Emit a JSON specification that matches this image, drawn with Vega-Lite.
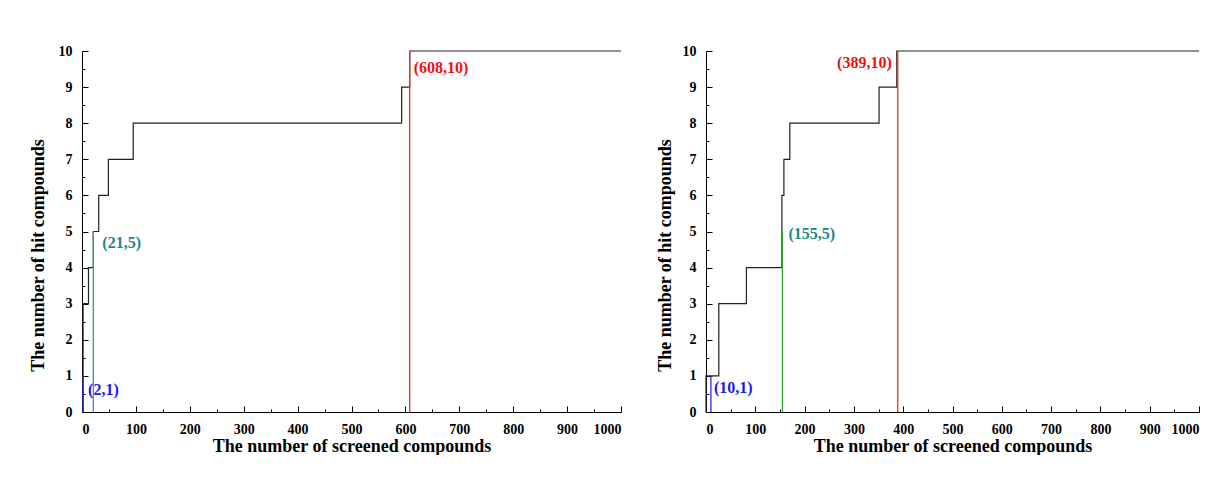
{
  "$schema": "https://vega.github.io/schema/vega-lite/v6.json",
  "background": "white",
  "padding": {"left": 29, "top": 44, "right": 0, "bottom": 0},
  "spacing": 32,
  "datasets": {
    "steps": [
      {"panel": "A", "i": 0, "x": 0, "y": 0},
      {"panel": "A", "i": 1, "x": 2, "y": 3},
      {"panel": "A", "i": 2, "x": 12, "y": 4},
      {"panel": "A", "i": 3, "x": 21, "y": 5},
      {"panel": "A", "i": 4, "x": 31, "y": 6},
      {"panel": "A", "i": 5, "x": 49, "y": 7},
      {"panel": "A", "i": 6, "x": 95, "y": 8},
      {"panel": "A", "i": 7, "x": 593, "y": 9},
      {"panel": "A", "i": 8, "x": 608, "y": 10},
      {"panel": "A", "i": 9, "x": 1000, "y": 10},
      {"panel": "B", "i": 0, "x": 0, "y": 0},
      {"panel": "B", "i": 1, "x": 0, "y": 1},
      {"panel": "B", "i": 2, "x": 26, "y": 3},
      {"panel": "B", "i": 3, "x": 82, "y": 4},
      {"panel": "B", "i": 4, "x": 154, "y": 6},
      {"panel": "B", "i": 5, "x": 158, "y": 7},
      {"panel": "B", "i": 6, "x": 170, "y": 8},
      {"panel": "B", "i": 7, "x": 351, "y": 9},
      {"panel": "B", "i": 8, "x": 387, "y": 10},
      {"panel": "B", "i": 9, "x": 1000, "y": 10}
    ],
    "marks": [
      {"panel": "A", "x": 2, "y": 1, "label": "(2,1)", "line": "blue"},
      {"panel": "A", "x": 21, "y": 5, "label": "(21,5)", "line": "teal"},
      {"panel": "A", "x": 608, "y": 10, "label": "(608,10)", "line": "red"},
      {"panel": "B", "x": 10, "y": 1, "label": "(10,1)", "line": "blue"},
      {"panel": "B", "x": 155, "y": 5, "label": "(155,5)", "line": "green"},
      {"panel": "B", "x": 389, "y": 10, "label": "(389,10)", "line": "red"}
    ]
  },
  "config": {
    "font": "Liberation Serif",
    "view": {"stroke": null},
    "axis": {
      "grid": false,
      "domainColor": "black",
      "domainWidth": 1,
      "tickColor": "black",
      "tickWidth": 1,
      "labelColor": "black",
      "titleColor": "black",
      "labelFont": "Liberation Serif",
      "titleFont": "Liberation Serif",
      "labelFontWeight": "bold",
      "titleFontWeight": "bold",
      "labelFontSize": 14,
      "titleFontSize": 18
    }
  },
  "hconcat": [
    {
      "width": 539,
      "height": 361,
      "resolve": {"axis": {"x": "independent", "y": "independent"}},
      "layer": [
        {
          "data": {"name": "steps"},
          "transform": [{"filter": "datum.panel === 'A'"}],
          "mark": {"type": "point", "opacity": 0},
          "encoding": {
            "x": {"field": "x", "type": "quantitative", "scale": {"domain": [0, 1000], "nice": false, "zero": false},
                  "axis": {"orient": "bottom", "values": [50,150,250,350,450,550,650,750,850,950], "labels": false, "domain": false, "tickSize": -3, "title": null}},
            "y": {"field": "y", "type": "quantitative", "scale": {"domain": [0, 10], "nice": false},
                  "axis": {"orient": "left", "values": [0.5,1.5,2.5,3.5,4.5,5.5,6.5,7.5,8.5,9.5], "labels": false, "domain": false, "tickSize": -3, "title": null}}
          }
        },
        {
          "data": {"name": "steps"},
          "transform": [{"filter": "datum.panel === 'A'"}],
          "mark": {"type": "line", "interpolate": "step-after", "color": "#222222", "strokeWidth": 1.2},
          "encoding": {
            "x": {"field": "x", "type": "quantitative",
                  "axis": {"orient": "bottom", "values": [0,100,200,300,400,500,600,700,800,900,1000], "format": "d", "tickSize": -6, "labelPadding": 16, "title": "The number of screened compounds", "titlePadding": 1}},
            "y": {"field": "y", "type": "quantitative",
                  "axis": {"orient": "left", "values": [0,1,2,3,4,5,6,7,8,9,10], "format": "d", "tickSize": -6, "labelPadding": 16, "title": "The number of hit compounds", "titleX": -44, "titleY": 204, "titleBaseline": "middle", "titleAngle": -90}},
            "order": {"field": "i", "type": "quantitative"}
          }
        },
        {
          "data": {"name": "marks"},
          "transform": [{"filter": "datum.panel === 'A'"}],
          "mark": {"type": "rule", "strokeWidth": 1.3},
          "encoding": {
            "x": {"field": "x", "type": "quantitative", "axis": null},
            "y": {"field": "y", "type": "quantitative", "axis": null},
            "y2": {"datum": 0},
            "color": {"field": "line", "type": "nominal", "legend": null,
                      "scale": {"domain": ["blue", "teal", "green", "red"], "range": ["#2a2aff", "#2a9d9d", "#2ea82e", "#f03030"]}}
          }
        },
        {
          "data": {"name": "marks"},
          "transform": [{"filter": "datum.label === '(2,1)'"}],
          "mark": {"type": "text", "align": "left", "baseline": "middle", "dx": 5, "dy": 14, "fontSize": 16, "fontWeight": "bold", "font": "Liberation Serif", "color": "#1a1aee"},
          "encoding": {"x": {"field": "x", "type": "quantitative", "axis": null}, "y": {"field": "y", "type": "quantitative", "axis": null}, "text": {"field": "label", "type": "nominal"}}
        },
        {
          "data": {"name": "marks"},
          "transform": [{"filter": "datum.label === '(21,5)'"}],
          "mark": {"type": "text", "align": "left", "baseline": "middle", "dx": 9, "dy": 11, "fontSize": 16, "fontWeight": "bold", "font": "Liberation Serif", "color": "#178a8a"},
          "encoding": {"x": {"field": "x", "type": "quantitative", "axis": null}, "y": {"field": "y", "type": "quantitative", "axis": null}, "text": {"field": "label", "type": "nominal"}}
        },
        {
          "data": {"name": "marks"},
          "transform": [{"filter": "datum.label === '(608,10)'"}],
          "mark": {"type": "text", "align": "left", "baseline": "middle", "dx": 4, "dy": 17, "fontSize": 16, "fontWeight": "bold", "font": "Liberation Serif", "color": "#ee1111"},
          "encoding": {"x": {"field": "x", "type": "quantitative", "axis": null}, "y": {"field": "y", "type": "quantitative", "axis": null}, "text": {"field": "label", "type": "nominal"}}
        }
      ]
    },
    {
      "width": 493,
      "height": 361,
      "resolve": {"axis": {"x": "independent", "y": "independent"}},
      "layer": [
        {
          "data": {"name": "steps"},
          "transform": [{"filter": "datum.panel === 'B'"}],
          "mark": {"type": "point", "opacity": 0},
          "encoding": {
            "x": {"field": "x", "type": "quantitative", "scale": {"domain": [0, 1000], "nice": false, "zero": false},
                  "axis": {"orient": "bottom", "values": [50,150,250,350,450,550,650,750,850,950], "labels": false, "domain": false, "tickSize": -3, "title": null}},
            "y": {"field": "y", "type": "quantitative", "scale": {"domain": [0, 10], "nice": false},
                  "axis": {"orient": "left", "values": [0.5,1.5,2.5,3.5,4.5,5.5,6.5,7.5,8.5,9.5], "labels": false, "domain": false, "tickSize": -3, "title": null}}
          }
        },
        {
          "data": {"name": "steps"},
          "transform": [{"filter": "datum.panel === 'B'"}],
          "mark": {"type": "line", "interpolate": "step-after", "color": "#222222", "strokeWidth": 1.2},
          "encoding": {
            "x": {"field": "x", "type": "quantitative",
                  "axis": {"orient": "bottom", "values": [0,100,200,300,400,500,600,700,800,900,1000], "format": "d", "tickSize": -6, "labelPadding": 16, "title": "The number of screened compounds", "titlePadding": 1}},
            "y": {"field": "y", "type": "quantitative",
                  "axis": {"orient": "left", "values": [0,1,2,3,4,5,6,7,8,9,10], "format": "d", "tickSize": -6, "labelPadding": 16, "title": "The number of hit compounds", "titleX": -41, "titleY": 204, "titleBaseline": "middle", "titleAngle": -90}},
            "order": {"field": "i", "type": "quantitative"}
          }
        },
        {
          "data": {"name": "marks"},
          "transform": [{"filter": "datum.panel === 'B'"}],
          "mark": {"type": "rule", "strokeWidth": 1.3},
          "encoding": {
            "x": {"field": "x", "type": "quantitative", "axis": null},
            "y": {"field": "y", "type": "quantitative", "axis": null},
            "y2": {"datum": 0},
            "color": {"field": "line", "type": "nominal", "legend": null,
                      "scale": {"domain": ["blue", "teal", "green", "red"], "range": ["#2a2aff", "#2a9d9d", "#2ea82e", "#f03030"]}}
          }
        },
        {
          "data": {"name": "marks"},
          "transform": [{"filter": "datum.label === '(10,1)'"}],
          "mark": {"type": "text", "align": "left", "baseline": "middle", "dx": 3, "dy": 12, "fontSize": 16, "fontWeight": "bold", "font": "Liberation Serif", "color": "#1a1aee"},
          "encoding": {"x": {"field": "x", "type": "quantitative", "axis": null}, "y": {"field": "y", "type": "quantitative", "axis": null}, "text": {"field": "label", "type": "nominal"}}
        },
        {
          "data": {"name": "marks"},
          "transform": [{"filter": "datum.label === '(155,5)'"}],
          "mark": {"type": "text", "align": "left", "baseline": "middle", "dx": 6, "dy": 2, "fontSize": 16, "fontWeight": "bold", "font": "Liberation Serif", "color": "#178a8a"},
          "encoding": {"x": {"field": "x", "type": "quantitative", "axis": null}, "y": {"field": "y", "type": "quantitative", "axis": null}, "text": {"field": "label", "type": "nominal"}}
        },
        {
          "data": {"name": "marks"},
          "transform": [{"filter": "datum.label === '(389,10)'"}],
          "mark": {"type": "text", "align": "right", "baseline": "middle", "dx": -6, "dy": 12, "fontSize": 16, "fontWeight": "bold", "font": "Liberation Serif", "color": "#ee1111"},
          "encoding": {"x": {"field": "x", "type": "quantitative", "axis": null}, "y": {"field": "y", "type": "quantitative", "axis": null}, "text": {"field": "label", "type": "nominal"}}
        }
      ]
    }
  ]
}
